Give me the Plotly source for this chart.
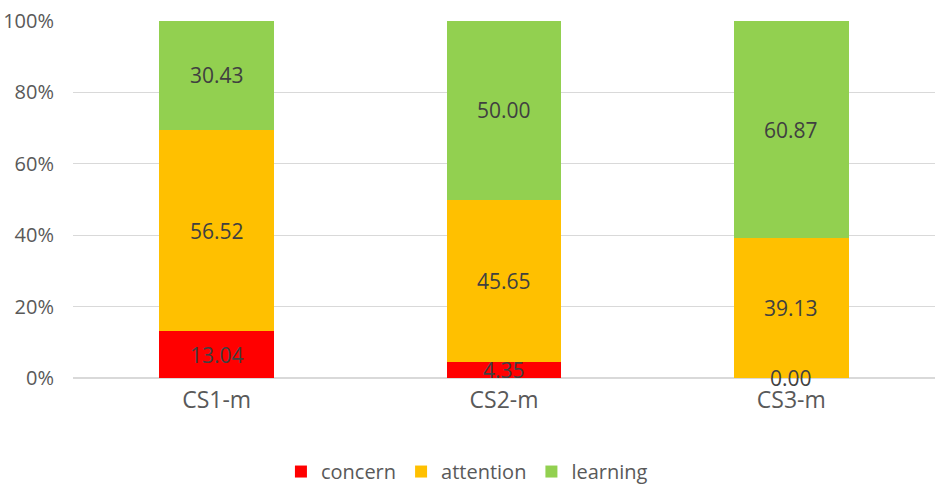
import plotly.graph_objects as go

categories = ["CS1-m", "CS2-m", "CS3-m"]
series_names = ["concern", "attention", "learning"]
concern = [13.04, 4.35, 0.00]
attention = [56.52, 45.65, 39.13]
learning = [30.43, 50.00, 60.87]
colors = ["#FF0000", "#FFC000", "#92D050"]
y_ticks = [0, 20, 40, 60, 80, 100]
y_tick_labels = ["0%", "20%", "40%", "60%", "80%", "100%"]

FONT = "Open Sans"
series = [concern, attention, learning]

fig = go.Figure()
for name, vals, col in zip(series_names, series, colors):
    fig.add_trace(go.Bar(x=categories, y=vals, name=name, marker=dict(color=col, line=dict(width=0)),
                         hoverinfo="skip"))

# data labels centered in each segment
base = [0.0] * len(categories)
for vals in series:
    for cat, b, v in zip(categories, base, vals):
        fig.add_annotation(x=cat, y=b + v / 2, text=f"{v:.2f}", showarrow=False,
                           font=dict(family=FONT, size=21, color="#404040"))
    base = [b + v for b, v in zip(base, vals)]

fig.update_layout(
    barmode="stack",
    bargap=0.6,
    width=935, height=484,
    margin=dict(l=73, r=0, t=21, b=106, autoexpand=False),
    plot_bgcolor="white", paper_bgcolor="white",
    font=dict(family=FONT, color="#595959"),
    legend=dict(orientation="h", x=0.457, xanchor="center", y=-0.262, yanchor="middle",
                font=dict(family=FONT, size=20, color="#595959"), itemwidth=30,
                traceorder="normal"),
    xaxis=dict(showgrid=False, showline=True, linecolor="#D9D9D9", linewidth=1,
               ticks="outside", ticklen=1, tickcolor="rgba(0,0,0,0)",
               tickfont=dict(family=FONT, size=23, color="#595959")),
    yaxis=dict(range=[0, 100], tickmode="array", tickvals=y_ticks, ticktext=y_tick_labels,
               showgrid=True, gridcolor="#D9D9D9", gridwidth=1, zeroline=True, zerolinecolor="#D9D9D9",
               ticks="outside", ticklen=14, tickcolor="rgba(0,0,0,0)",
               tickfont=dict(family=FONT, size=20, color="#595959")),
)

fig.write_html("out.html")
